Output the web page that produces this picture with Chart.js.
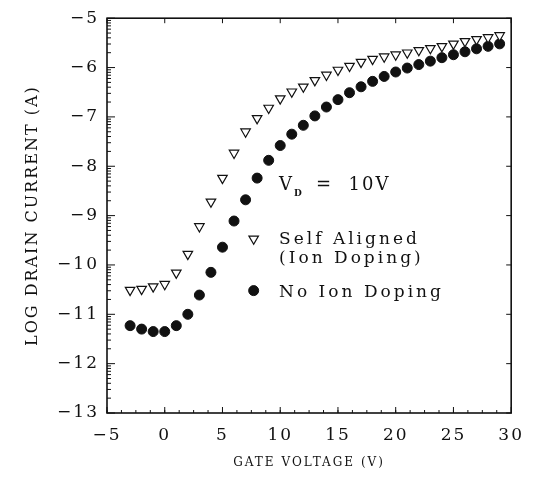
<!DOCTYPE html>
<html>
<head>
<meta charset="utf-8">
<script src="https://cdn.jsdelivr.net/npm/chart.js@4.4.1/dist/chart.umd.min.js"></script>
<style>
  html, body { margin: 0; padding: 0; background: #fff; }
</style>
</head>
<body>
<canvas id="drainCurrent" width="534" height="486"></canvas>
<script>
const gateVoltage = [-3, -2, -1, 0, 1, 2, 3, 4, 5, 6, 7, 8, 9, 10, 11, 12, 13, 14, 15, 16,
                     17, 18, 19, 20, 21, 22, 23, 24, 25, 26, 27, 28, 29];
const selfAligned = [-10.51, -10.49, -10.44, -10.39, -10.16, -9.78, -9.22, -8.72, -8.24, -7.73,
                     -7.30, -7.03, -6.82, -6.63, -6.49, -6.39, -6.26, -6.15, -6.05, -5.97,
                     -5.89, -5.83, -5.78, -5.74, -5.70, -5.65, -5.61, -5.57, -5.52, -5.47,
                     -5.43, -5.39, -5.35];
const noIonDoping = [-11.23, -11.30, -11.35, -11.35, -11.23, -11.00, -10.61, -10.15, -9.64, -9.11,
                     -8.68, -8.24, -7.88, -7.58, -7.35, -7.17, -6.98, -6.80, -6.65, -6.51,
                     -6.39, -6.28, -6.18, -6.09, -6.01, -5.94, -5.87, -5.80, -5.74, -5.68,
                     -5.62, -5.57, -5.52];
const xTickValues = [-5, 0, 5, 10, 15, 20, 25, 30];
const yTickValues = [-13, -12, -11, -10, -9, -8, -7, -6, -5];

const ink = '#111';
const serif = 'DejaVu Serif';

function minusLabel(v) {
    return v < 0 ? '\u2212' + Math.abs(v) : String(v);
}

// box, inward ticks and the text key inside the plot
const frameAndKey = {
    id: 'frameAndKey',
    beforeDraw(chart) {
        chart.ctx.letterSpacing = '2px';
    },
    afterDraw(chart) {
        const ctx = chart.ctx;
        const a = chart.chartArea;
        const x = chart.scales.x;
        const y = chart.scales.y;

        ctx.save();
        ctx.strokeStyle = ink;
        ctx.lineWidth = 1.6;
        ctx.strokeRect(a.left, a.top, a.right - a.left, a.bottom - a.top);

        ctx.lineWidth = 1;
        ctx.beginPath();
        yTickValues.forEach(v => {
            const py = y.getPixelForValue(v);
            ctx.moveTo(a.left, py); ctx.lineTo(a.left + 8, py);
            ctx.moveTo(a.right, py); ctx.lineTo(a.right - 5, py);
            if (v < -5) {
                for (let k = 2; k <= 9; k++) {
                    const my = y.getPixelForValue(v + Math.log10(k));
                    ctx.moveTo(a.left, my); ctx.lineTo(a.left + 4, my);
                }
            }
        });
        xTickValues.forEach(v => {
            const px = x.getPixelForValue(v);
            ctx.moveTo(px, a.bottom); ctx.lineTo(px, a.bottom - 6);
            ctx.moveTo(px, a.top); ctx.lineTo(px, a.top + 5);
        });
        for (let v = -5; v < 30; v += 1.25) {
            const px = x.getPixelForValue(v);
            ctx.moveTo(px, a.bottom); ctx.lineTo(px, a.bottom - 3);
        }
        ctx.stroke();

        // key
        const ds = chart.data.datasets;
        const markX = x.getPixelForValue(7.7);
        [[ds[0], -9.47], [ds[1], -10.52]].forEach(([d, val]) => {
            ctx.fillStyle = d.backgroundColor;
            ctx.strokeStyle = d.borderColor;
            ctx.lineWidth = d.borderWidth;
            Chart.helpers.drawPoint(ctx, {
                pointStyle: d.pointStyle, radius: d.pointRadius,
                rotation: d.rotation || 0, borderWidth: d.borderWidth
            }, markX, y.getPixelForValue(val));
        });

        ctx.fillStyle = ink;
        ctx.textBaseline = 'middle';
        ctx.textAlign = 'left';
        const textX = x.getPixelForValue(9.9);
        ctx.letterSpacing = '3px';
        ctx.font = '17px "' + serif + '"';
        ctx.fillText('Self Aligned', textX, y.getPixelForValue(-9.48));
        ctx.fillText('(Ion Doping)', textX, y.getPixelForValue(-9.88));
        ctx.fillText('No Ion Doping', textX, y.getPixelForValue(-10.55));

        const vdY = y.getPixelForValue(-8.38);
        ctx.font = '18px "' + serif + '"';
        ctx.fillText('V', textX, vdY);
        ctx.font = 'bold 9px "' + serif + '"';
        ctx.fillText('D', textX + 15, vdY + 9);
        ctx.font = '18px "' + serif + '"';
        ctx.letterSpacing = '2px';
        ctx.fillText('=  10V', textX + 37, vdY);
        ctx.restore();
    }
};

new Chart(document.getElementById('drainCurrent'), {
    type: 'scatter',
    data: {
        datasets: [
            {
                label: 'Self Aligned (Ion Doping)',
                data: gateVoltage.map((v, i) => ({ x: v, y: selfAligned[i] })),
                pointStyle: 'triangle',
                rotation: 180,
                pointRadius: 5.5,
                backgroundColor: '#fff',
                borderColor: ink,
                borderWidth: 1.2
            },
            {
                label: 'No Ion Doping',
                data: gateVoltage.map((v, i) => ({ x: v, y: noIonDoping[i] })),
                pointStyle: 'circle',
                pointRadius: 5,
                backgroundColor: ink,
                borderColor: ink,
                borderWidth: 1
            }
        ]
    },
    options: {
        responsive: false,
        animation: false,
        layout: {
            padding: { top: 15, right: 14, left: 0, bottom: 0 }
        },
        scales: {
            x: {
                type: 'linear',
                min: -5,
                max: 30,
                afterBuildTicks: s => { s.ticks = xTickValues.map(v => ({ value: v })); },
                afterFit: s => { s.height = 73; },
                grid: { display: false, drawTicks: false },
                border: { display: false },
                ticks: {
                    color: ink,
                    padding: 12,
                    maxRotation: 0,
                    font: { family: serif, size: 17 },
                    callback: v => minusLabel(v)
                },
                title: {
                    display: true,
                    text: 'GATE VOLTAGE (V)',
                    color: ink,
                    font: { family: serif, size: 12 },
                    padding: { top: 0, bottom: 16 }
                }
            },
            y: {
                type: 'linear',
                min: -13,
                max: -5,
                afterBuildTicks: s => { s.ticks = yTickValues.map(v => ({ value: v })); },
                afterFit: s => { s.width = 107; },
                grid: { display: false, drawTicks: false },
                border: { display: false },
                ticks: {
                    color: ink,
                    padding: 8,
                    font: { family: serif, size: 17 },
                    callback: v => minusLabel(v)
                },
                title: {
                    display: true,
                    text: 'LOG DRAIN CURRENT (A)',
                    color: ink,
                    font: { family: serif, size: 16 },
                    padding: { top: 23, bottom: 0 }
                }
            }
        },
        plugins: {
            legend: { display: false },
            tooltip: { enabled: false }
        }
    },
    plugins: [frameAndKey]
});
</script>
</body>
</html>
